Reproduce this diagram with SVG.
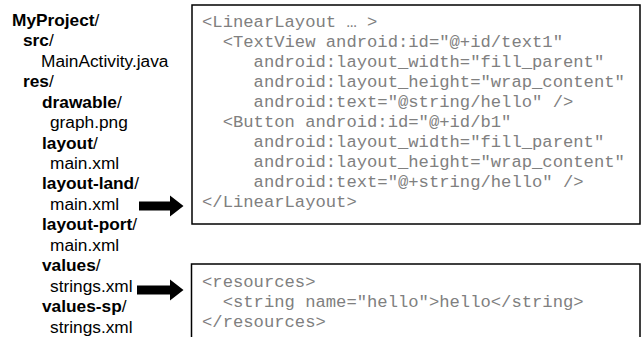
<svg xmlns="http://www.w3.org/2000/svg" width="641" height="337" viewBox="0 0 641 337">
  <defs>
    <style>
      .tree { font-family: "Liberation Sans", Arial, sans-serif; font-size: 17.3px; fill: #000; }
      .dir { font-weight: bold; }
      .code { font-family: "Liberation Mono", "Courier New", monospace; font-size: 17.2px; fill: #808080; white-space: pre; }
      .box { fill: #fff; stroke: #000; stroke-width: 1.5; }
      .arrow { fill: #000; }
    </style>
  </defs>
  <rect width="641" height="337" fill="#fff"/>

  <!-- project file tree -->
  <g id="tree" class="tree">
    <text x="12" y="26"><tspan class="dir">MyProject</tspan>/</text>
    <text x="23" y="46.4"><tspan class="dir">src</tspan>/</text>
    <text x="41" y="66.8">MainActivity.java</text>
    <text x="23" y="87.3"><tspan class="dir">res</tspan>/</text>
    <text x="42" y="107.7"><tspan class="dir">drawable</tspan>/</text>
    <text x="50" y="128.1">graph.png</text>
    <text x="42" y="148.6"><tspan class="dir">layout</tspan>/</text>
    <text x="50" y="169">main.xml</text>
    <text x="42" y="189.4"><tspan class="dir">layout-land</tspan>/</text>
    <text x="50" y="209.9">main.xml</text>
    <text x="42" y="230.3"><tspan class="dir">layout-port</tspan>/</text>
    <text x="50" y="250.7">main.xml</text>
    <text x="42" y="271.2"><tspan class="dir">values</tspan>/</text>
    <text x="50" y="291.6">strings.xml</text>
    <text x="42" y="312"><tspan class="dir">values-sp</tspan>/</text>
    <text x="50" y="332.5">strings.xml</text>
  </g>

  <!-- layout file contents -->
  <g id="layout-xml">
    <rect class="box" x="192" y="5" width="448" height="219"/>
    <text class="code" x="202" y="27">&lt;LinearLayout … &gt;</text>
    <text class="code" x="202" y="47">  &lt;TextView android:id="@+id/text1"</text>
    <text class="code" x="202" y="67">     android:layout_width="fill_parent"</text>
    <text class="code" x="202" y="87">     android:layout_height="wrap_content"</text>
    <text class="code" x="202" y="107">     android:text="@string/hello" /&gt;</text>
    <text class="code" x="202" y="127">  &lt;Button android:id="@+id/b1"</text>
    <text class="code" x="202" y="147">     android:layout_width="fill_parent"</text>
    <text class="code" x="202" y="167">     android:layout_height="wrap_content"</text>
    <text class="code" x="202" y="187">     android:text="@+string/hello" /&gt;</text>
    <text class="code" x="202" y="207">&lt;/LinearLayout&gt;</text>
  </g>

  <!-- string resource contents -->
  <g id="strings-xml">
    <rect class="box" x="191.5" y="264" width="448.5" height="80"/>
    <text class="code" x="202" y="286.5">&lt;resources&gt;</text>
    <text class="code" x="202" y="306.5">  &lt;string name="hello"&gt;hello&lt;/string&gt;</text>
    <text class="code" x="202" y="326.5">&lt;/resources&gt;</text>
  </g>

  <!-- arrows from files to their contents -->
  <g id="connectors">
    <polygon class="arrow" points="139,201.5 170,201.5 170,195.5 183.5,206 170,216.5 170,210.5 139,210.5"/>
    <polygon class="arrow" points="137,285.5 170,285.5 170,279.5 183.5,290 170,300.5 170,294.5 137,294.5"/>
  </g>
</svg>
